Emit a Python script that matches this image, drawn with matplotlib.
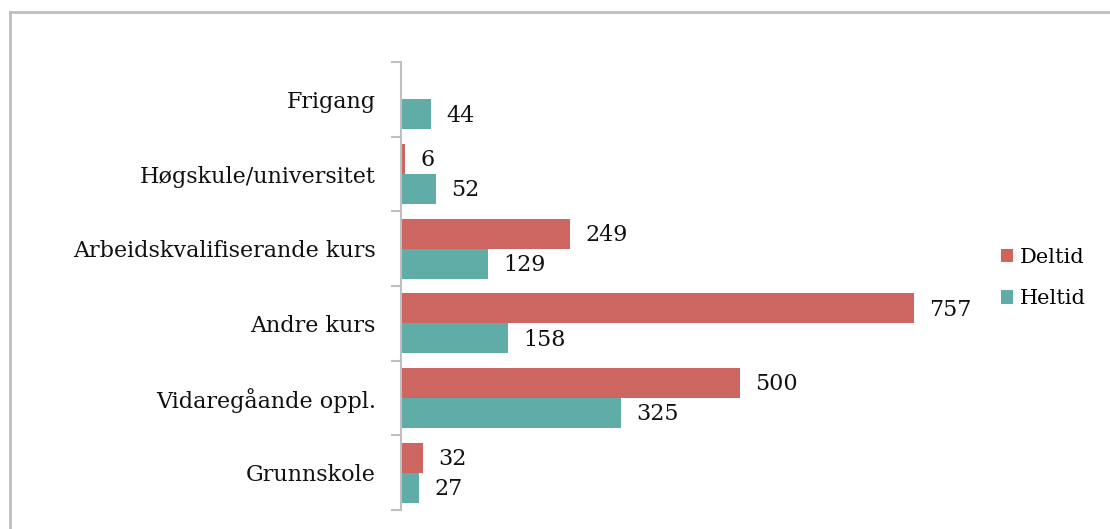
import numpy as np
import matplotlib
matplotlib.use('Agg')
import matplotlib.pyplot as plt
from matplotlib.lines import Line2D

categories = ['Frigang', 'Høgskule/universitet', 'Arbeidskvalifiserande kurs',
              'Andre kurs', 'Vidaregåande oppl.', 'Grunnskole']
deltid = [0, 6, 249, 757, 500, 32]
heltid = [44, 52, 129, 158, 325, 27]
series_names = ['Deltid', 'Heltid']

red = '#CD6660'
teal = '#60ADA8'

plt.rcParams['font.family'] = ['DejaVu Serif']
plt.rcParams['font.size'] = 16

fig = plt.figure(figsize=(11.1, 5.29), dpi=100)
ax = fig.add_axes([401/1110, 1-510/529, (960-401)/1110, (510-62)/529])

# outer chart border (only left and top visible in the crop)
fig.add_artist(Line2D([10/1110, 10/1110], [0, 1-12/529], color='#BFBFBF', lw=2))
fig.add_artist(Line2D([10/1110, 1], [1-12/529, 1-12/529], color='#BFBFBF', lw=2))

y = np.arange(len(categories))
h = 0.4
b1 = ax.barh(y - h/2, deltid, height=h, color=red, label=series_names[0])
b2 = ax.barh(y + h/2, heltid, height=h, color=teal, label=series_names[1])

for bars, vals in ((b1, deltid), (b2, heltid)):
    for bar, v in zip(bars, vals):
        if v == 0:
            continue
        ax.annotate(str(v), (bar.get_width(), bar.get_y() + bar.get_height()/2),
                    xytext=(11, -1), textcoords='offset points',
                    va='center', ha='left', fontsize=16, color='#111111')

ax.set_ylim(len(categories) - 0.5, -0.5)
ax.set_xlim(0, 559/0.6777)
ax.set_yticks(y)
ax.set_yticklabels(categories, color='#111111')
ax.set_yticks(np.arange(len(categories)+1) - 0.5, minor=True)
ax.tick_params(axis='y', which='major', length=0, pad=18)
ax.tick_params(axis='y', which='minor', length=7, width=1.5, color='#BFBFBF')
ax.set_xticks([])
for s in ['top', 'right', 'bottom']:
    ax.spines[s].set_visible(False)
ax.spines['left'].set_color('#BFBFBF')
ax.spines['left'].set_linewidth(1.5)

fig.legend(handles=[b1, b2], loc='center left', bbox_to_anchor=(982/1110, 1-278/529),
           frameon=False, handlelength=0.6, handleheight=0.6, handletextpad=0.3,
           labelspacing=1.1, fontsize=15)

fig.savefig('out.png', dpi=100)
